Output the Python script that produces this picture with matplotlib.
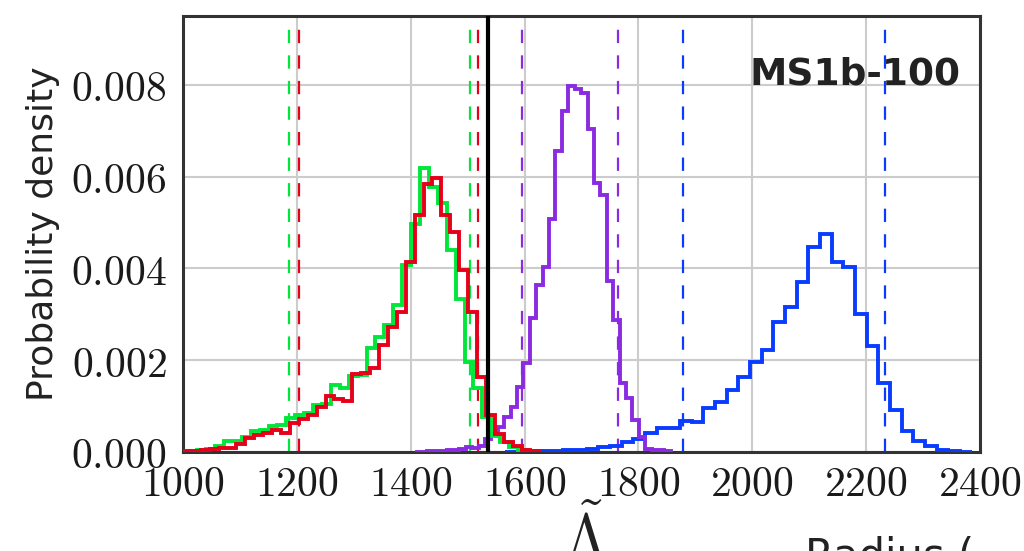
import numpy as np
import matplotlib
matplotlib.use("Agg")
import matplotlib.pyplot as plt
from matplotlib.ticker import FuncFormatter

plt.rcParams['mathtext.fontset'] = 'cm'

# ---- data (probability densities per bin) ----
green_range = (993.8, 1619.8)
green_vals = [0.00001, 0.00003, 0.00005, 0.00007, 0.00013, 0.00025, 0.00024, 0.00033,
              0.00045, 0.00049, 0.00056, 0.00059, 0.00073, 0.00081, 0.00084, 0.00102,
              0.00105, 0.00146, 0.00139, 0.00166, 0.00168, 0.00226, 0.00251, 0.00277,
              0.00320, 0.00408, 0.00497, 0.00618, 0.00578, 0.00542, 0.00440, 0.00334,
              0.00197, 0.00139, 0.00077, 0.00035, 0.00022, 0.00010, 0.00004, 0.00002]

red_range = (1000.0, 1626.0)
red_vals = [0.00002, 0.00002, 0.00004, 0.00007, 0.00009, 0.00009, 0.00018, 0.00030,
            0.00037, 0.00042, 0.00048, 0.00041, 0.00063, 0.00071, 0.00081, 0.00097,
            0.00121, 0.00115, 0.00112, 0.00170, 0.00173, 0.00182, 0.00233, 0.00273,
            0.00306, 0.00415, 0.00517, 0.00584, 0.00597, 0.00517, 0.00480, 0.00397,
            0.00304, 0.00164, 0.00081, 0.00040, 0.00022, 0.00012, 0.00005, 0.00003]

purple_range = (1406.8, 1856.8)
purple_vals = [0.00001, 0.00001, 0.00002, 0.00002, 0.00003, 0.00004, 0.00005, 0.00007,
               0.00010, 0.00009, 0.00012, 0.00028, 0.00040, 0.00055, 0.00077, 0.00099,
               0.00142, 0.00193, 0.00291, 0.00364, 0.00404, 0.00508, 0.00656, 0.00742,
               0.00798, 0.00790, 0.00782, 0.00703, 0.00587, 0.00561, 0.00373, 0.00288,
               0.00151, 0.00117, 0.00070, 0.00033, 0.00006, 0.00005, 0.00004, 0.00002]

blue_range = (1565.5, 2385.5)
blue_vals = [0.000005, 0.00001, 0.00001, 0.00002, 0.00003, 0.00004, 0.00005, 0.00007,
             0.00010, 0.00013, 0.00022, 0.00028, 0.00041, 0.00052, 0.00053, 0.00068,
             0.00066, 0.00095, 0.00110, 0.00135, 0.00164, 0.00197, 0.00222, 0.00283,
             0.00315, 0.00370, 0.00446, 0.00475, 0.00415, 0.00403, 0.00301, 0.00231,
             0.00151, 0.00092, 0.00046, 0.00024, 0.00012, 0.00004, 0.00002, 0.00001]

# credible-interval bounds (dashed) and injected value (solid)
green_bounds = [1187, 1504]
red_bounds = [1204, 1518]
purple_bounds = [1595, 1764]
blue_bounds = [1878, 2234]
true_value = 1536

x_ticks = [1000, 1200, 1400, 1600, 1800, 2000, 2200, 2400]
y_ticks = [0.000, 0.002, 0.004, 0.006, 0.008]
title = "MS1b-100"

colors = {'green': '#00e63a', 'red': '#e6001a', 'purple': '#8a2be2', 'blue': '#0a3cff'}

fig = plt.figure(figsize=(10.24, 5.51), dpi=100)
ax = fig.add_axes([183/1024, 1-452/551, 797/1024, 436/551])

ax.grid(True, color='#cccccc', lw=1.5, zorder=0)
ax.set_axisbelow(True)

def hist(vals, rng, c):
    edges = np.linspace(rng[0], rng[1], len(vals) + 1)
    ax.stairs(vals, edges, color=c, lw=2.8, zorder=3)

hist(blue_vals, blue_range, colors['blue'])
hist(purple_vals, purple_range, colors['purple'])
hist(green_vals, green_range, colors['green'])
hist(red_vals, red_range, colors['red'])

for b, c in [(green_bounds, 'green'), (red_bounds, 'red'),
             (purple_bounds, 'purple'), (blue_bounds, 'blue')]:
    for v in b:
        ax.axvline(v, color=colors[c], lw=1.6, dashes=(6.0, 5.5), zorder=2)

ax.axvline(true_value, color='black', lw=3.0, zorder=4)

ax.set_xlim(1000, 2400)
ax.set_ylim(0, 0.0095)
ax.set_xticks(x_ticks)
ax.set_yticks(y_ticks)
ax.xaxis.set_major_formatter(FuncFormatter(lambda v, p: r'$%d$' % v))
ax.yaxis.set_major_formatter(FuncFormatter(lambda v, p: r'$%.3f$' % v))
ax.tick_params(length=0, labelsize=30, pad=8, colors='#1a1a1a')
ax.tick_params(axis='y', pad=12)
for s in ax.spines.values():
    s.set_color('#333333')
    s.set_linewidth(2.2)

ax.set_ylabel('Probability density', fontsize=26, family='DejaVu Sans', color='#222222', labelpad=8)

ax.text(0.975, 0.865, title, transform=ax.transAxes, ha='right', va='center',
        fontsize=27, fontweight='bold', family='DejaVu Sans', color='#222222')

fig.text(585/1024, 1-508/551, r'$\tilde{\Lambda}$', fontsize=44, ha='center', va='top', color='#222222')
fig.text(805/1024, 1-536/551, 'Radius (', fontsize=30, ha='left', va='top',
         family='DejaVu Sans', color='#222222')

fig.savefig('out.png', dpi=100)
